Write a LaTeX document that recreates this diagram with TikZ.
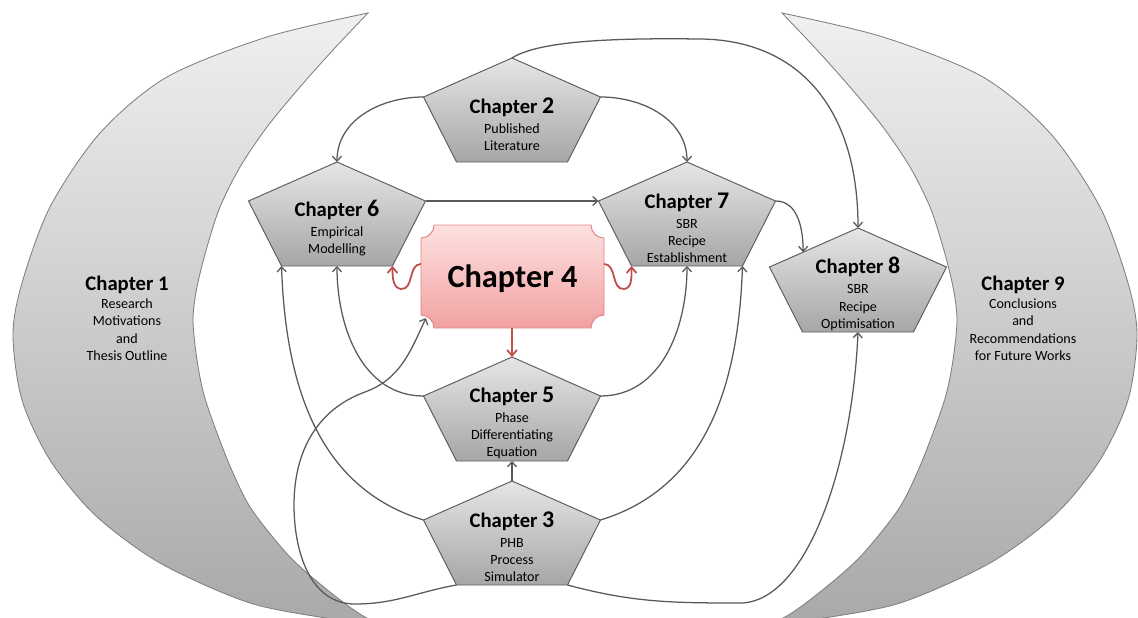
\documentclass[tikz,border=0pt]{standalone}
\usepackage{fontspec}
\setmainfont{Carlito}
\usepackage{xcolor}
\usepackage{tikz}
\usetikzlibrary{arrows.meta, calc}

\definecolor{linkgray}{HTML}{595959}
\definecolor{edgegray}{HTML}{5F5F5F}
\definecolor{pentop}{HTML}{E6E6E6}
\definecolor{penbot}{HTML}{A6A6A6}
\definecolor{moontop}{HTML}{F0F0F0}
\definecolor{moonbot}{HTML}{A8A8A8}
\definecolor{moonedge}{HTML}{7F7F7F}
\definecolor{redtop}{HTML}{FDE1E1}
\definecolor{redbot}{HTML}{F2A1A1}
\definecolor{rededge}{HTML}{E38686}
\definecolor{arrowred}{HTML}{C0504D}

\newcommand{\chaptitle}[1]{{\fontsize{14.7}{16}\selectfont\bfseries Chapter \fontsize{17}{18}\selectfont #1}}
\newcommand{\sidetitle}[1]{{\fontsize{14.7}{16}\selectfont\bfseries Chapter #1}}

\begin{document}
\begin{tikzpicture}[x=0.025cm, y=0.025cm,
    moon/.style={draw=moonedge, line width=0.6pt, top color=moontop, bottom color=moonbot},
    penta/.style={draw=edgegray, line width=0.7pt, top color=pentop, bottom color=penbot},
    chaptext/.style={align=center, inner sep=0pt, font=\fontsize{10}{12.2}\selectfont},
    link/.style={draw=linkgray, line width=0.9pt, -{Straight Barb[length=3.5pt, width=6.5pt]}},
    redlink/.style={draw=arrowred, line width=1.3pt, -{Straight Barb[length=4pt, width=7pt]}},
    redbox/.style={draw=rededge, line width=0.7pt, top color=redtop, bottom color=redbot}]
    \useasboundingbox (0,0) rectangle (1138,-618);

    \foreach \sx/\dx in {1/0,-1/1150} {
        \path[moon, shift={(\dx,0)}, xscale=\sx]
            plot[smooth] coordinates {(368,-13) (267,-37) (167,-77) (100,-133) (50,-207) (22,-283) (13,-335) (22,-400) (50,-460) (95,-515) (160,-563) (250,-603) (338,-620) (400,-630)}
            -- plot[smooth] coordinates {(400,-630) (365,-617) (330,-592) (290,-557) (252,-510) (233,-473) (217,-433) (204,-395) (197,-360) (193,-320) (197,-287) (207,-247) (220,-207) (240,-167) (267,-127) (300,-87) (333,-50) (368,-13)}
            -- cycle;
    }
    \node[chaptext] (c1) at (127,-318) {\sidetitle{1}\\[1pt]Research\\Motivations\\and\\Thesis Outline};
    \node[chaptext] (c9) at (1023,-318) {\sidetitle{9}\\[1pt]Conclusions\\and\\Recommendations\\for Future Works};

    \foreach \n/\x/\y/\num/\txt in {c2/512/-58/2/{Published\\Literature},
                                    c6/337/-162/6/{Empirical\\Modelling},
                                    c7/687/-162/7/{SBR\\Recipe\\Establishment},
                                    c8/858/-228/8/{SBR\\Recipe\\Optimisation},
                                    c5/512/-357/5/{Phase\\Differentiating\\Equation},
                                    c3/512/-481/3/{PHB\\Process\\Simulator}} {
        \path[penta] (\x,\y) coordinate (\n-t) -- ++(88.5,-39) coordinate (\n-r) -- ++(-33,-65) coordinate (\n-br)
            -- ++(-111,0) coordinate (\n-bl) -- ++(-33,65) coordinate (\n-l) -- cycle;
        \coordinate (\n-b) at (\x,\y-104);
        \node[chaptext] (\n) at (\x,\y-66) {\chaptitle{\num}\\[2pt]\txt};
    }

    \path[redbox] (434,-225) -- (591,-225) arc[start angle=180, end angle=270, radius=13]
        -- (604,-315) arc[start angle=90, end angle=180, radius=13]
        -- (434,-328) arc[start angle=0, end angle=90, radius=13]
        -- (421,-238) arc[start angle=270, end angle=360, radius=13] -- cycle;
    \node[inner sep=0pt, font=\fontsize{23}{26}\selectfont\bfseries] (c4) at (512.5,-279) {Chapter 4};
    \coordinate (c4-w) at (421,-264);
    \coordinate (c4-e) at (604,-264);
    \coordinate (c4-s) at (512,-328);
    \coordinate (c4-sw) at (426,-318);
    \coordinate (c8-ul) at ($(c8-l)!.38!(c8-t)$);

    \draw[link] (c2-l) to[out=180, in=90] (c6-t);
    \draw[link] (c2-r) to[out=0, in=90] (c7-t);
    \draw[link] (c2-t) .. controls (540,-40) and (620,-38) .. (700,-39) .. controls (800,-40) and (858,-110) .. (c8-t);
    \draw[link] (c6-r) -- (c7-l);
    \draw[link] (c7-r) to[out=0, in=90] (c8-ul);
    \draw[link] (c3-t) -- (c5-b);
    \draw[link] (c5-l) to[out=180, in=-90] (c6-b);
    \draw[link] (c5-r) to[out=0, in=-90] (c7-b);
    \draw[link] (c3-l) to[out=163, in=-88] (c6-bl);
    \draw[link] (c3-r) to[out=17, in=-92] (c7-br);
    \draw[link] (c3-bl) to[out=190, in=0] (355,-604) to[out=180, in=-90] (294,-505)
        to[out=90, in=200] (365,-392) to[out=20, in=245] (c4-sw);
    \draw[link] (c3-br) to[out=-15, in=180] (740,-603) .. controls (805,-603) and (852,-470) .. (c8-b);

    \draw[redlink] (c4-s) -- (c5-t);
    \draw[redlink] (c4-w) .. controls (408,-264) and (414,-290) .. (401,-289) .. controls (393,-288) and (392.5,-278) .. (c6-br);
    \draw[redlink] (c4-e) .. controls (617,-264) and (611,-290) .. (624,-289) .. controls (632,-288) and (631.5,-278) .. (c7-bl);
\end{tikzpicture}
\end{document}
